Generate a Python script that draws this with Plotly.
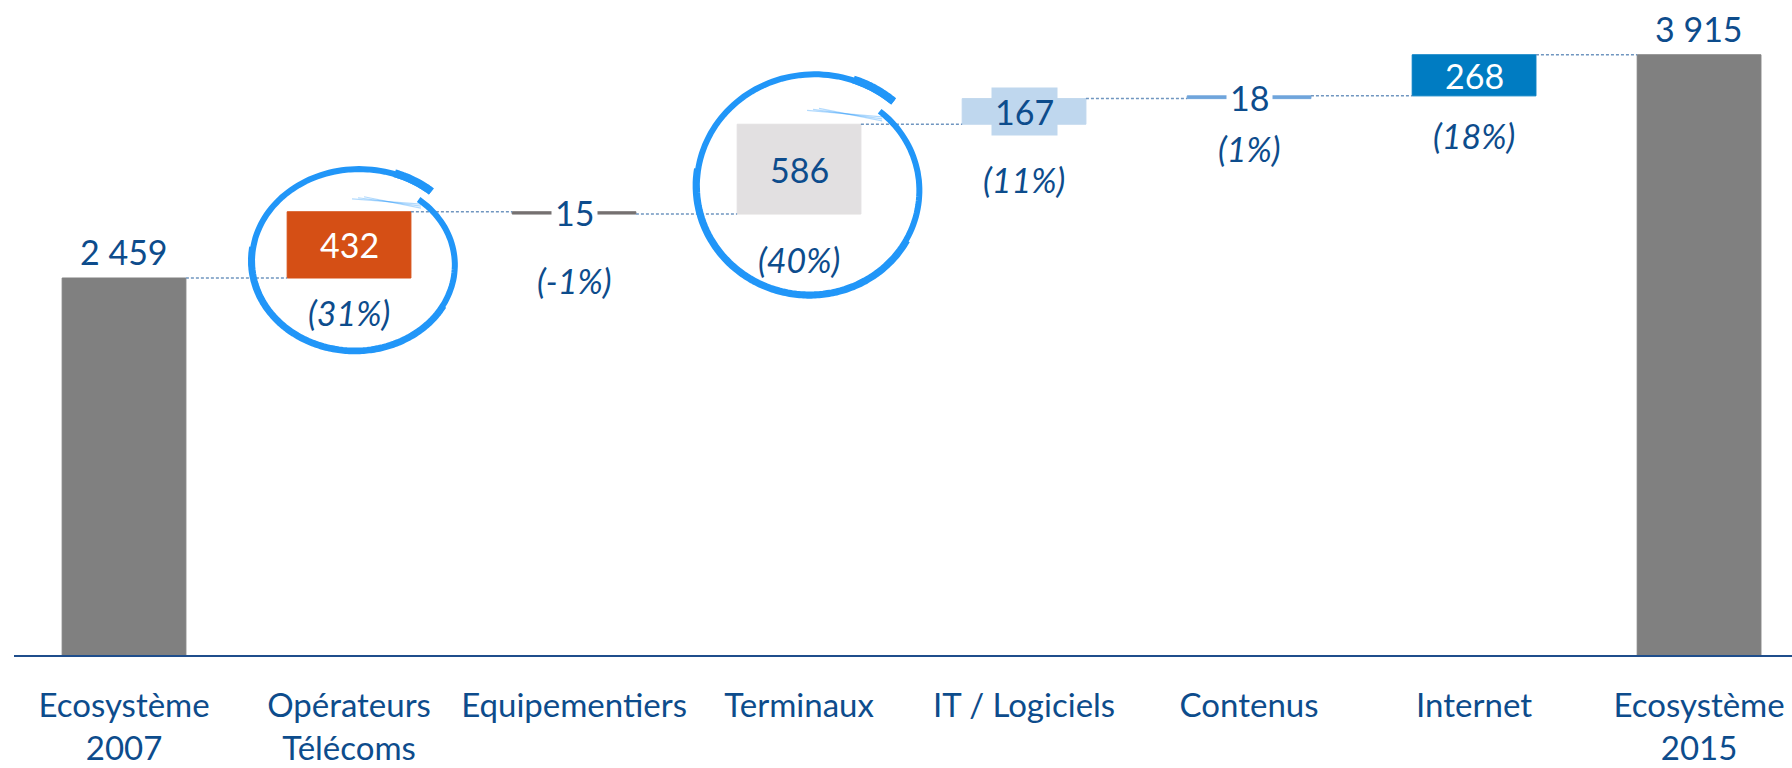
import numpy as np
import plotly.graph_objects as go

# Waterfall data
categories = ["Ecosystème<br>2007", "Opérateurs<br>Télécoms", "Equipementiers", "Terminaux",
              "IT / Logiciels", "Contenus", "Internet", "Ecosystème<br>2015"]
start_total = 2459
changes = [432, -15, 586, 167, 18, 268]
end_total = 3915
value_labels = ["2 459", "432", "15", "586", "167", "18", "268", "3 915"]
pct_labels = ["(31%)", "(-1%)", "(40%)", "(11%)", "(1%)", "(18%)"]

bar_colors = ["#808080", "#D54F15", "#767171", "#E2E0E1", "#BFD7EE", "#6FA5DC", "#007CC2", "#808080"]
label_colors = ["#0D4C8C", "white", "#0D4C8C", "#0D4C8C", "#0D4C8C", "#0D4C8C", "white", "#0D4C8C"]
label_bg = [None, None, "white", None, "#BFD7EE", "white", None, None]
pct_offsets = [34, 66, 45, 55, 50, 40]  # px below the bar bottom

TEXT = "#0D4C8C"
FONT = "Lato"
BAR_W = 0.55
CIRCLE = "#2196F8"

# bases / heights
bases, heights, ends = [0], [start_total], [start_total]
cum = start_total
for ch in changes:
    bases.append(min(cum, cum + ch))
    heights.append(abs(ch))
    cum += ch
    ends.append(cum)
bases.append(0)
heights.append(end_total)
ends.append(end_total)
x = list(range(len(categories)))

fig = go.Figure()

# dashed connectors
cx, cy = [], []
for i in range(len(x) - 1):
    cx += [x[i] + BAR_W / 2, x[i + 1] - BAR_W / 2, None]
    cy += [ends[i], ends[i], None]
fig.add_trace(go.Scatter(x=cx, y=cy, mode="lines", hoverinfo="skip",
                         line=dict(color="#7096C0", width=1.5, dash="3px,2px")))

fig.add_trace(go.Bar(x=x, y=heights, base=bases, width=BAR_W, hoverinfo="skip",
                     marker=dict(color=bar_colors, line=dict(color=bar_colors, width=1))))

ann = []
for i in x:
    if i in (0, len(x) - 1):
        ann.append(dict(x=i, y=ends[i], text=value_labels[i], showarrow=False, yanchor="bottom",
                        yshift=4, font=dict(family=FONT, size=34, color=TEXT)))
    else:
        a = dict(x=i, y=bases[i] + heights[i] / 2, text=value_labels[i], showarrow=False,
                 font=dict(family=FONT, size=34, color=label_colors[i]))
        if label_bg[i]:
            a.update(bgcolor=label_bg[i], borderpad=3)
        ann.append(a)
        ann.append(dict(x=i, y=bases[i], text="<i>" + pct_labels[i - 1] + "</i>", showarrow=False,
                        yanchor="middle", yshift=-pct_offsets[i - 1],
                        font=dict(family=FONT, size=34, color=TEXT)))

A0, A1, R0, R1 = 50, -312, 0.93, 1.07


def arc(dx, dy, rx, ry, a0, a1, bump=0.0, n=160):
    # clockwise hand-drawn loop, pixel offsets (y up) from the anchor
    ang = np.linspace(a0, a1, n)
    s = R0 + (R1 - R0) * (ang - A0) / (A1 - A0) + bump
    t = np.radians(ang)
    px = dx + rx * s * np.cos(t)
    py = dy + ry * s * np.sin(t)
    return "M " + " L ".join(f"{a:.1f},{b:.1f}" for a, b in zip(px, py))


def seg(dx, dy, pts):
    return "M " + " L ".join(f"{dx + a:.1f},{dy + b:.1f}" for a, b in pts)


shapes = []
for idx, dx, dy, rx, ry in [(1, 8, -18, 103, 89), (3, 13, -19, 113, 108)]:
    ymid = bases[idx] + heights[idx] / 2
    common = dict(type="path", xref="x", yref="y", xsizemode="pixel", ysizemode="pixel",
                  xanchor=idx, yanchor=ymid)
    shapes.append(dict(common, path=arc(dx, dy, rx, ry, A0, A1),
                       line=dict(color=CIRCLE, width=6)))
    shapes.append(dict(common, path=arc(dx, dy, rx, ry, -30, -190, bump=0.02),
                       line=dict(color=CIRCLE, width=4)))
    shapes.append(dict(common, path=arc(dx, dy, rx, ry, -290, A1, bump=0.01, n=30),
                       line=dict(color=CIRCLE, width=8)))
    for k in range(3):
        shapes.append(dict(common, path=seg(dx, dy, [(-5 + 6 * k, 0.72 * ry + k), (0.62 * rx, 0.66 * ry - 2 * k)]),
                           line=dict(color="rgba(33,150,248,0.35)", width=1.2)))

fig.update_layout(
    width=1792, height=768,
    margin=dict(l=14, r=0, t=10, b=113),
    plot_bgcolor="white", paper_bgcolor="white",
    showlegend=False, shapes=shapes, annotations=ann,
    xaxis=dict(range=[-0.489, 7.413], tickvals=x, ticktext=categories, showgrid=False,
               zeroline=False, showline=True, linecolor="#1F4E8C", linewidth=2,
               ticks="", ticklabelstandoff=20, automargin=False,
               tickfont=dict(family=FONT, size=33, color=TEXT)),
    yaxis=dict(range=[0, 4207], visible=False, automargin=False),
)

fig.write_html("out.html", config={"displayModeBar": False},
               post_script="document.body.style.margin='0';")
